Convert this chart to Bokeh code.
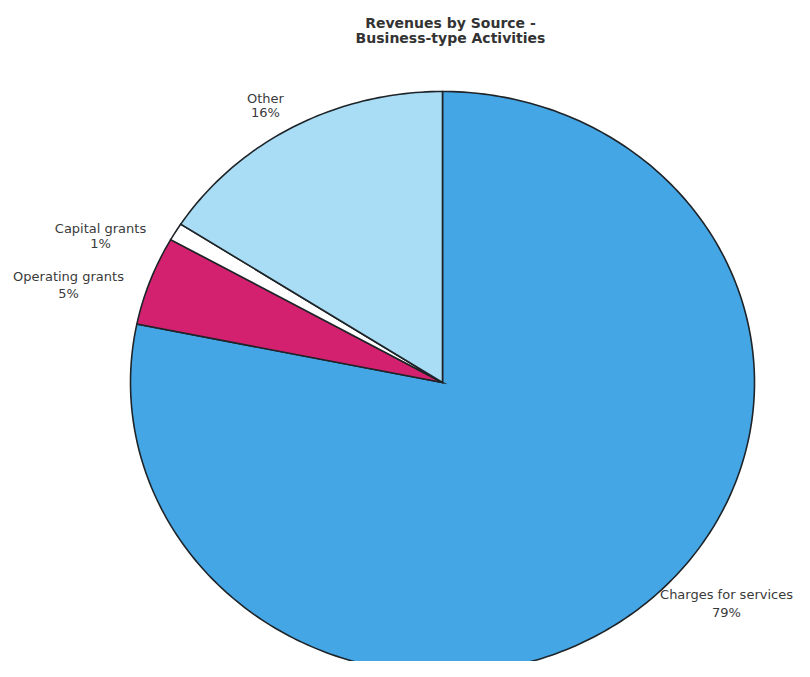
import numpy as np
from bokeh.plotting import figure
from bokeh.models import Range1d, ColumnDataSource
from bokeh.core.properties import value
from bokeh.embed import file_html
from bokeh.resources import INLINE

# Data
categories = ["Charges for services", "Operating grants", "Capital grants", "Other"]
percents = [79, 5, 1, 16]
pct_labels = ["79%", "5%", "1%", "16%"]
colors = ["#45a6e6", "#d3206f", "#ffffff", "#a8ddf5"]

# Layout (page pixel coordinates)
W, H = 794, 661
cx, cy = 442, 382
rx, ry = 312, 291

p = figure(width=W, height=H, output_backend="svg", toolbar_location=None,
           x_range=Range1d(0, W), y_range=Range1d(H, 0),
           min_border=0)
p.axis.visible = False
p.grid.visible = False
p.outline_line_color = None
p.background_fill_color = "white"

total = float(sum(percents))
start = np.pi / 2
xs, ys = [], []
for v in percents:
    sweep = v / total * 2 * np.pi
    t = np.linspace(start, start - sweep, max(int(sweep * 60), 4))
    xs.append([cx] + list(cx + rx * np.cos(t)) + [cx])
    ys.append([cy] + list(cy - ry * np.sin(t)) + [cy])
    start -= sweep

src = ColumnDataSource(dict(xs=xs, ys=ys, color=colors, cat=categories))
p.patches("xs", "ys", source=src, fill_color="color", line_color="#1e2428",
          line_width=1.6, line_join="miter")

# Labels
label_x = [726, 68, 100, 265]
label_y1 = [594, 276, 228, 98]
label_y2 = [612, 293, 243, 112]
lab = ColumnDataSource(dict(x=label_x, y1=label_y1, y2=label_y2,
                            name=categories, pct=pct_labels))
common = dict(text_font=value("DejaVu Sans"), text_font_size="13px",
              text_color="#3a3a3a", text_align="center", text_baseline="middle")
p.text("x", "y1", text="name", source=lab, **common)
p.text("x", "y2", text="pct", source=lab, **common)

# Title
title_lines = ["Revenues by Source -", "Business-type Activities"]
tsrc = ColumnDataSource(dict(x=[450, 450], y=[22, 37], t=title_lines))
p.text("x", "y", text="t", source=tsrc, text_font=value("DejaVu Sans"),
       text_font_size="14px", text_font_style="bold", text_color="#333333",
       text_align="center", text_baseline="middle")

open("out.html", "w").write(file_html(p, INLINE))
